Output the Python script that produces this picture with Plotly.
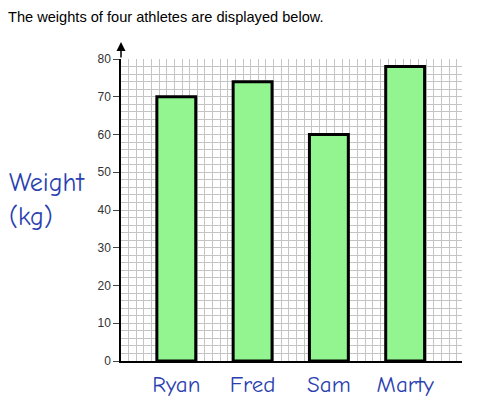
import plotly.graph_objects as go

# athlete weights
athletes = ["Ryan", "Fred", "Sam", "Marty"]
weights_kg = [70, 74, 60, 78]
y_ticks = [0, 10, 20, 30, 40, 50, 60, 70, 80]

pos = list(range(len(athletes)))
x_lo, x_hi = -0.725, 3.745

BLUE = "#2a3fb0"
HAND = "Comic Sans MS, Comic Neue, Noto Sans, sans-serif"
GRID = "#c4c4c4"

fig = go.Figure()
fig.add_trace(go.Bar(
    x=pos, y=weights_kg, width=0.51,
    marker=dict(color="#92f58f", line=dict(color="black", width=3)),
    hoverinfo="skip",
))

fig.update_xaxes(
    range=[x_lo, x_hi],
    tickmode="array", tickvals=pos, ticktext=athletes,
    tickfont=dict(family=HAND, size=23, color=BLUE),
    ticks="outside", ticklen=2, tickcolor="rgba(0,0,0,0)",
    showgrid=False, zeroline=False,
    showline=True, linecolor="black", linewidth=1.5,
    minor=dict(tickmode="linear", tick0=x_lo, dtick=0.1,
               showgrid=True, gridcolor=GRID, gridwidth=1),
)
fig.update_yaxes(
    range=[0, 80],
    tickmode="array", tickvals=y_ticks,
    tickfont=dict(family="Arial, Liberation Sans", size=12, color="#333"),
    ticks="outside", ticklen=6, tickcolor="#444",
    showgrid=True, gridcolor=GRID, gridwidth=1,
    zeroline=False,
    showline=True, linecolor="black", linewidth=1.5,
    minor=dict(dtick=2, showgrid=True, gridcolor=GRID, gridwidth=1),
)

# arrowhead on top of the y axis
fig.add_annotation(
    x=x_lo, y=84.5, ax=x_lo, ay=80, xref="x", yref="y", axref="x", ayref="y",
    text="", showarrow=True, arrowhead=2, arrowsize=1.2, arrowwidth=1.5,
    arrowcolor="black",
)
# y axis title in handwritten style
fig.add_annotation(
    x=-0.334, y=0.533, xref="paper", yref="paper",
    xanchor="left", yanchor="middle", align="left",
    text="Weight<br>(kg)", showarrow=False,
    font=dict(family=HAND, size=26, color=BLUE),
)

# page body adds 8px, so margins are shifted to land the plot where the reference has it
fig.update_layout(
    width=499, height=414,
    margin=dict(l=113, r=45, t=51, b=61),
    paper_bgcolor="white", plot_bgcolor="white",
    showlegend=False,
    title=dict(
        text="The weights of four athletes are displayed below.",
        x=0.0, xanchor="left", xref="container",
        y=0.992, yanchor="top", yref="container",
        font=dict(family="Arial, Liberation Sans", size=14.6, color="black"),
    ),
)

fig.write_html("out.html")
